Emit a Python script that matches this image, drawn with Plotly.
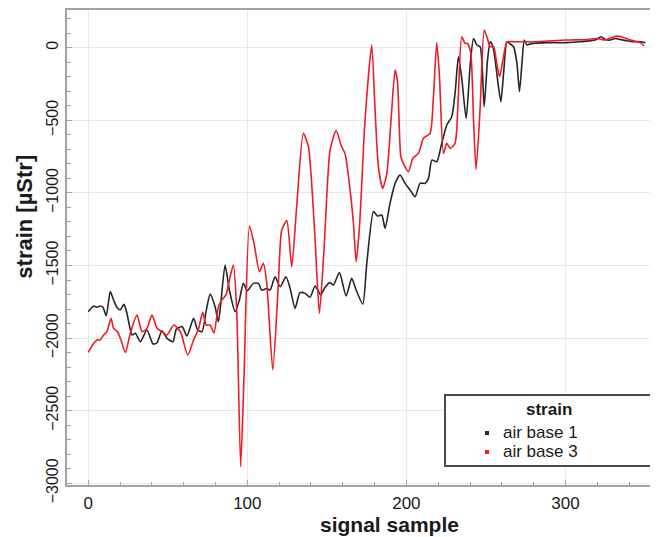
import plotly.graph_objects as go

# air base 1 (black)
base1_x = [0, 3.4, 5.5, 7.5, 9.2, 11.3, 13.8, 15.9, 18, 20, 22.4, 24.3, 27.5, 29.6, 32.7, 36.9,
           40.7, 43.2, 46.3, 49.5, 53.2, 55.3, 59, 62, 66.2, 68.8, 71.5, 74.2, 76.6, 79.7, 81.8,
           83.3, 86, 88.7, 92.3, 95, 97.5, 100, 103.8, 107, 109, 112.2, 114.3, 117.4, 120.6,
           124.3, 126.9, 130, 133.1, 136.3, 139.4, 142.6, 146.1, 148.9, 152, 154.1, 157.9,
           162.1, 165.6, 168.4, 172.6, 175.1, 179.3, 181.8, 184.5, 186.6, 189.7, 192.9, 196,
           199.2, 202.3, 205.5, 208.6, 211.8, 213.9, 216, 219.1, 222.2, 225.4, 228.5, 230.6,
           232.7, 234.8, 237.6, 240.1, 242.2, 244.3, 246.4, 248.9, 251, 252.7, 254.4, 255.8,
           257.9, 259.4, 261.1, 263.2, 264.8, 267.4, 269.5, 271.1, 272.8, 274.1, 275.8, 277.4,
           279.9, 288.3, 300.5, 309.3, 318.7, 322.3, 325, 328.2, 331.3, 334.5, 338.6, 342.8,
           347, 350.2]
base1_y = [-1818, -1779, -1788, -1779, -1788, -1846, -1680, -1738, -1788, -1807, -1768, -1830,
           -1979, -1967, -2025, -1944, -2041, -2032, -1949, -2002, -2025, -1940, -1921, -1986,
           -1864, -1944, -1956, -1807, -1697, -1784, -1887, -1761, -1497, -1669, -1818, -1738,
           -1623, -1674, -1623, -1623, -1669, -1658, -1669, -1577, -1646, -1577, -1658, -1795,
           -1687, -1692, -1719, -1641, -1703, -1650, -1618, -1634, -1549, -1710, -1589, -1669,
           -1766, -1485, -1129, -1159, -1152, -1244, -1072, -934, -877, -934, -980, -1026, -934,
           -934, -900, -774, -785, -659, -532, -475, -314, -62, -211, -487, -119, 64, 19, 7,
           -406, -85, 41, 7, -85, -269, -372, -177, 41, 30, 7, -108, -303, -85, 53, 19, 25, 30,
           35, 35, 41, 53, 76, 57, 53, 64, 57, 48, 41, 41, 35]

# air base 3 (red)
base3_x = [0, 3.4, 5.5, 7.5, 9.6, 11.7, 14.3, 15.9, 18.4, 20.5, 23.3, 26.4, 30.6, 33.8, 36.9,
           40, 43.2, 46.3, 49.5, 53.7, 57.9, 62.5, 66.2, 69.4, 71.9, 74.2, 76.6, 79, 81.8,
           83.9, 86.6, 88.7, 91.2, 93.3, 95.8, 97.9, 101.3, 104.2, 107.6, 110.1, 112.2, 116,
           119.5, 121.6, 124.8, 127.9, 131, 135.2, 138.4, 142.6, 145.3, 148.2, 152, 155.8,
           159.3, 161.4, 164.6, 166.7, 168.4, 170.5, 174, 178.2, 180.3, 182.4, 185.1, 187.7,
           190.8, 192.9, 194.4, 196.5, 198.1, 201.3, 204, 207.6, 210.7, 214.9, 217, 219.1,
           220.8, 223.3, 225.4, 227.5, 230.6, 232.7, 234.8, 236.9, 238.4, 240.5, 242.2, 243.8,
           246.3, 248.9, 250.6, 252.7, 254.8, 256.5, 258.6, 260.7, 263.2, 267.4, 277.9, 288.3,
           300.9, 313.5, 319.8, 325, 329.2, 332.4, 336.5, 339.7, 342.8, 347, 349.5]
base3_y = [-2098, -2036, -2013, -2013, -1979, -1956, -1864, -1933, -1956, -2013, -2100, -1967,
           -1841, -1956, -1933, -1841, -1933, -1956, -1979, -1910, -1956, -2117, -2013, -1933,
           -1823, -1910, -1910, -1965, -1784, -1738, -1703, -1600, -1497, -1807, -2886, -2266,
           -1228, -1348, -1543, -1485, -1623, -2220, -1623, -1256, -1191, -1508, -1095, -590,
           -682, -1325, -1830, -1393, -705, -571, -682, -728, -980, -1210, -1474, -1233, -498,
           19, -429, -819, -969, -865, -429, -154, -234, -751, -796, -854, -762, -728, -624,
           -590, -337, 35, -200, -728, -659, -693, -659, -314, 76, 30, 30, -39, -498, -838,
           -429, 122, 76, 7, 7, -85, -200, -85, 41, 41, 41, 46, 53, 57, 64, 53, 71, 80, 71, 57,
           48, 35, 12]

series_names = ["air base 1", "air base 3"]
series_colors = ["#262626", "#ee1c24"]
legend_title = "strain"
x_title = "signal sample"
y_title = "strain [µStr]"

FONT = "Liberation Sans, Arial, sans-serif"
TXT = "#1a1a1a"

fig = go.Figure()
for xs, ys, name, col in zip([base1_x, base3_x], [base1_y, base3_y], series_names, series_colors):
    fig.add_trace(go.Scatter(x=xs, y=ys, mode="lines", name=name, showlegend=False,
                             line=dict(color=col, width=1.6, shape="spline", smoothing=0.6)))

axis_common = dict(
    showline=True, linecolor="#a3a3a3", linewidth=2,
    showgrid=True, gridcolor="#e9e9e9", gridwidth=1,
    zeroline=False,
    ticks="inside", ticklen=5, tickcolor="#a3a3a3", tickwidth=1,
)

fig.update_xaxes(range=[-13.4, 358.2], dtick=100, tick0=0, mirror=True,
                 minor=dict(dtick=20, ticks="inside", ticklen=3, tickcolor="#a3a3a3", showgrid=False),
                 ticklabelstandoff=2, tickfont=dict(family=FONT, size=17, color=TXT), **axis_common)
fig.update_yaxes(range=[-3012, 260], dtick=500, tick0=0, tickangle=-90,
                 minor=dict(dtick=100, ticks="inside", ticklen=4, tickcolor="#a3a3a3", showgrid=False),
                 ticklabelstandoff=1, tickfont=dict(family=FONT, size=16, color=TXT), **axis_common)

# legend box drawn in paper coordinates
legend_x0, legend_x1, legend_y0, legend_y1 = 0.6396, 0.9915, 0.04, 0.1895
item_ys = [0.1095, 0.0695]
marker_x = 0.7107
text_x = 0.7343
shapes = [dict(type="rect", xref="paper", yref="paper",
               x0=legend_x0, x1=legend_x1, y0=legend_y0, y1=legend_y1,
               line=dict(color="#4a4a4a", width=2), fillcolor="white", layer="above")]
annotations = [
    dict(text="<b>" + legend_title + "</b>", xref="paper", yref="paper",
         x=(legend_x0 + legend_x1) / 2, y=0.158, xanchor="center", yanchor="middle",
         showarrow=False, font=dict(family=FONT, size=17, color=TXT)),
    dict(text="<b>" + x_title + "</b>", xref="paper", yref="paper", x=0.545, y=-0.084,
         xanchor="center", yanchor="middle", showarrow=False,
         font=dict(family=FONT, size=21, color=TXT)),
    dict(text="<b>" + y_title + "</b>", xref="paper", yref="paper", x=-0.071, y=0.565,
         xanchor="center", yanchor="middle", showarrow=False, textangle=-90,
         font=dict(family=FONT, size=22, color=TXT)),
]
for name, col, yy in zip(series_names, series_colors, item_ys):
    shapes.append(dict(type="rect", xref="paper", yref="paper",
                       x0=marker_x - 0.0034, x1=marker_x + 0.0034, y0=yy - 0.0042, y1=yy + 0.0042,
                       line=dict(width=0), fillcolor=col, layer="above"))
    annotations.append(dict(text=name, xref="paper", yref="paper", x=text_x, y=yy,
                            xanchor="left", yanchor="middle", showarrow=False,
                            font=dict(family=FONT, size=17, color=TXT)))

fig.update_layout(
    width=650, height=529,
    margin=dict(l=59, r=0, t=2, b=52),
    paper_bgcolor="white", plot_bgcolor="white",
    font=dict(family=FONT, color=TXT),
    showlegend=False,
    shapes=shapes,
    annotations=annotations,
)

fig.write_html("out.html")
